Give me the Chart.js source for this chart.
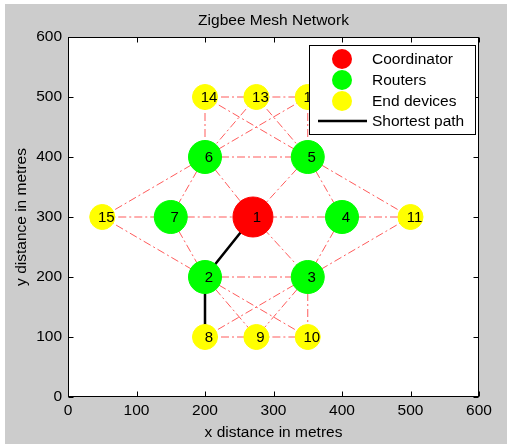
<!DOCTYPE html>
<html>
<head>
<meta charset="utf-8">
<title>Zigbee Mesh Network</title>
<script src="https://cdn.jsdelivr.net/npm/chart.js@4.4.0/dist/chart.umd.min.js"></script>
<style>
body{margin:0;background:#fff;}
canvas{display:block;}
</style>
</head>
<body>
<canvas id="myChart" width="507" height="444"></canvas>
<script>
// node positions (metres), index = node id - 1
const nodeIds = [1, 2, 3, 4, 5, 6, 7, 8, 9, 10, 11, 12, 13, 14, 15];
const nodeX = [270, 200, 350, 400, 350, 200, 150, 200, 275, 350, 500, 350, 275, 200, 50];
const nodeY = [300, 200, 200, 300, 400, 400, 300, 100, 100, 100, 300, 500, 500, 500, 300];

const coordinatorNodes = [1];
const routerNodes = [2, 3, 4, 5, 6, 7];
const endDeviceNodes = [8, 9, 10, 11, 12, 13, 14, 15];

// radio links between nodes
const links = [
  [14, 13], [13, 12], [14, 6], [12, 5], [14, 5], [12, 6], [13, 6], [13, 5],
  [6, 5], [6, 15], [6, 7], [6, 1], [5, 1], [5, 4], [5, 11],
  [15, 7], [7, 1], [1, 4], [4, 11], [15, 2], [7, 2], [1, 3], [4, 3], [11, 3],
  [2, 3], [1, 2],
  [2, 8], [2, 9], [2, 10], [3, 8], [3, 9], [3, 10], [8, 9], [9, 10]
];
const shortestPath = [1, 2, 8];

const axisTicks = [0, 100, 200, 300, 400, 500, 600];

const FONT = "Arial, 'Liberation Sans', sans-serif";
const txtFont = {family: FONT, size: 15.5};

function pointOf(id){
  return {x: nodeX[id - 1], y: nodeY[id - 1], id: id};
}

var datasets = [];

datasets.push({
  label: "Coordinator",
  data: coordinatorNodes.map(pointOf),
  backgroundColor: "#ff0000", borderColor: "#ff0000",
  pointRadius: 20, pointHoverRadius: 20, order: 0
});
datasets.push({
  label: "Routers",
  data: routerNodes.map(pointOf),
  backgroundColor: "#00ff00", borderColor: "#00ff00",
  pointRadius: 16.5, pointHoverRadius: 16.5, order: 0
});
datasets.push({
  label: "End devices",
  data: endDeviceNodes.map(pointOf),
  backgroundColor: "#ffff00", borderColor: "#ffff00",
  pointRadius: 12.5, pointHoverRadius: 12.5, order: 0
});
datasets.push({
  label: "Shortest path",
  data: shortestPath.map(pointOf),
  showLine: true, borderColor: "#000", borderWidth: 2.5,
  pointRadius: 0, order: 1
});
links.forEach(function(l){
  datasets.push({
    label: "link",
    data: [pointOf(l[0]), pointOf(l[1])],
    showLine: true, borderColor: "rgba(255,50,50,0.8)", borderWidth: 1,
    borderDash: [8, 3, 2, 3], pointRadius: 0, order: 2
  });
});

// background, node numbers, box with inward ticks, title, legend
const matlabLook = {
  id: "matlabLook",
  beforeDraw: function(chart){
    var ctx = chart.ctx;
    ctx.save();
    ctx.fillStyle = "#fff";
    ctx.fillRect(0, 0, chart.width, chart.height);
    ctx.fillStyle = "#cccccc";
    ctx.fillRect(5, 4, chart.width - 5, chart.height - 4);
    var a = chart.chartArea;
    ctx.fillStyle = "#fff";
    ctx.fillRect(a.left, a.top, a.right - a.left, a.bottom - a.top);
    ctx.restore();
  },
  afterDatasetsDraw: function(chart){
    var ctx = chart.ctx, xs = chart.scales.x, ys = chart.scales.y, a = chart.chartArea;
    ctx.save();
    // node numbers
    ctx.fillStyle = "#000";
    ctx.font = "15px " + FONT;
    ctx.textAlign = "center";
    ctx.textBaseline = "middle";
    nodeIds.forEach(function(id){
      ctx.fillText(String(id), xs.getPixelForValue(nodeX[id - 1]) + 4, ys.getPixelForValue(nodeY[id - 1]) + 1);
    });
    // axes box and ticks
    ctx.strokeStyle = "#000";
    ctx.lineWidth = 1;
    var L = Math.round(a.left) + 0.5, R = Math.round(a.right) - 0.5;
    var T = Math.round(a.top) + 0.5, B = Math.round(a.bottom) - 0.5;
    ctx.beginPath();
    axisTicks.forEach(function(v){
      var px = Math.round(xs.getPixelForValue(v)) + 0.5;
      ctx.moveTo(px, B); ctx.lineTo(px, B - 5);
      ctx.moveTo(px, T); ctx.lineTo(px, T + 5);
      var py = Math.round(ys.getPixelForValue(v)) + 0.5;
      ctx.moveTo(L, py); ctx.lineTo(L + 5, py);
      ctx.moveTo(R, py); ctx.lineTo(R - 5, py);
    });
    ctx.stroke();
    ctx.strokeRect(L, T, R - L, B - T);
    // title
    ctx.font = "15.5px " + FONT;
    ctx.fillText("Zigbee Mesh Network", (a.left + a.right) / 2, 21);
    ctx.restore();
  },
  afterDraw: function(chart){
    var ctx = chart.ctx;
    ctx.save();
    var bx = 309.5, by = 45.5, bw = 166, bh = 89;
    ctx.fillStyle = "#fff";
    ctx.fillRect(bx, by, bw, bh);
    ctx.strokeStyle = "#000";
    ctx.lineWidth = 1;
    ctx.strokeRect(bx, by, bw, bh);
    ctx.font = "15.5px " + FONT;
    ctx.textAlign = "left";
    ctx.textBaseline = "middle";
    var rows = [59, 80, 101, 121];
    for (var i = 0; i < 4; i++){
      var ds = chart.data.datasets[i];
      var y = rows[i];
      if (ds.showLine){
        ctx.strokeStyle = ds.borderColor;
        ctx.lineWidth = ds.borderWidth;
        ctx.beginPath();
        ctx.moveTo(318, y); ctx.lineTo(367, y);
        ctx.stroke();
      } else {
        ctx.fillStyle = ds.backgroundColor;
        ctx.beginPath();
        ctx.arc(342, y, 10, 0, Math.PI * 2);
        ctx.fill();
      }
      ctx.fillStyle = "#000";
      ctx.fillText(ds.label, 372, y + 1);
    }
    ctx.restore();
  }
};

new Chart("myChart", {
  type: "scatter",
  data: {datasets: datasets},
  options: {
    responsive: false,
    animation: false,
    events: [],
    layout: {padding: {top: 37, right: 28, bottom: 0, left: 0}},
    plugins: {legend: {display: false}, title: {display: false}, tooltip: {enabled: false}},
    scales: {
      x: {
        type: "linear", min: 0, max: 600,
        afterBuildTicks: function(s){ s.ticks = axisTicks.map(function(v){ return {value: v}; }); },
        ticks: {font: txtFont, color: "#000", padding: 4, maxRotation: 0},
        grid: {display: false, drawTicks: false},
        border: {display: false},
        title: {display: true, text: "x distance in metres", font: txtFont, color: "#000", padding: {top: 0, bottom: 2}},
        afterFit: function(s){ s.height = 47; }
      },
      y: {
        type: "linear", min: 0, max: 600,
        afterBuildTicks: function(s){ s.ticks = axisTicks.map(function(v){ return {value: v}; }); },
        ticks: {font: txtFont, color: "#000", padding: 6},
        grid: {display: false, drawTicks: false},
        border: {display: false},
        title: {display: true, text: "y distance in metres", font: txtFont, color: "#000", padding: {top: 12, bottom: 0}},
        afterFit: function(s){ s.width = 68; }
      }
    }
  },
  plugins: [matlabLook]
});
</script>
</body>
</html>
